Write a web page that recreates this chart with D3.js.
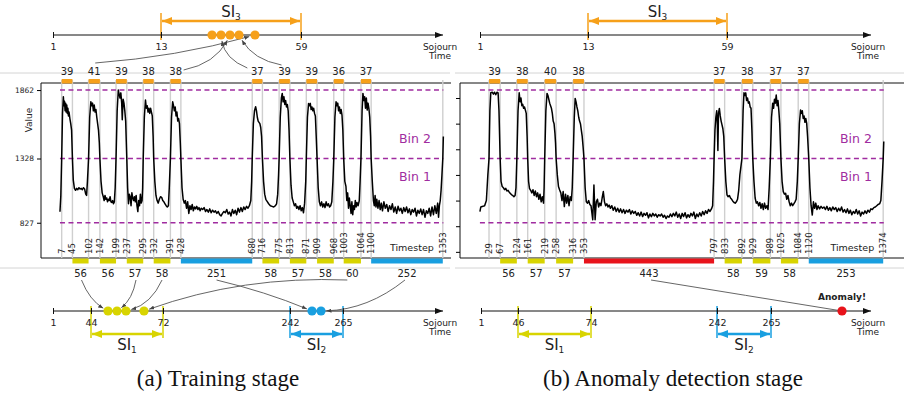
<!DOCTYPE html>
<html>
<head>
<meta charset="utf-8">
<script src="https://cdn.jsdelivr.net/npm/d3@7"></script>
<style>
  body { margin: 0; background: #fff; }
  text { font-family: "DejaVu Sans", sans-serif; fill: #222; }
  .cap { font-family: "Liberation Serif", serif; fill: #111; }
</style>
</head>
<body>
<svg id="fig" width="904" height="394"></svg>
<script>
// ---- data ----
// timesteps where the signal crosses the Bin 1 / Bin 2 border (up, down, up, down ...)
const trainCross = [7,45,102,142,199,237,295,332,391,428,680,716,775,813,871,909,968,1003,1064,1100,1353];
const testCross  = [29,67,124,161,219,258,316,353,797,833,892,929,989,1025,1084,1120,1374];
// sojourn times spent in Bin 2 (top bars) and Bin 1 (bottom bars)
const trainBin2 = [39,41,39,38,38,37,39,39,36,37];
const trainBin1 = [56,56,57,58,251,58,57,58,60,252];
const testBin2  = [39,38,40,38,37,38,37,37];
const testBin1  = [56,57,57,443,58,59,58,253];
const binEdges  = [827,1328,1862];
const rightTicks = [600,800,1000,1200,1400,1600,1800];
// sojourn intervals
const si3 = [13,59];
const si1Train = [44,72], si2Train = [242,265];
const si1Test  = [46,74], si2Test  = [242,265];
const topAxisTicks   = [1,13,59];
const trainLowTicks  = [1,44,72,242,265];
const testLowTicks   = [1,46,74,242,265];

const trainSignal = [
 [1,913],[4,1040],[7,1328],[10,1680],[13,1810],[15,1740],[17,1775],[19,1700],[21,1760],[23,1690],[25,1745],[27,1680],[29,1720],[31,1660],[33,1690],[36,1640],[39,1600],[42,1550],[45,1328],[48,1160],[52,1095],[56,1080],[60,1095],[64,1085],[68,1100],[72,1090],[76,1095],[80,1085],[84,1100],[88,1090],[92,1050],[95,1040],[98,1150],
 [102,1328],[106,1650],[110,1771],[113,1740],[116,1760],[119,1700],[122,1745],[125,1690],[128,1710],[131,1650],[134,1600],[137,1550],[140,1450],[142,1328],[146,1150],[150,1060],[154,1030],[157,1000],[160,1040],[163,1010],[166,1020],[169,990],[172,1010],[175,1000],[178,1030],[181,990],[184,985],[187,1000],[190,975],[193,990],[196,1100],
 [199,1328],[203,1700],[207,1862],[210,1830],[213,1800],[216,1840],[219,1760],[221,1630],[224,1790],[227,1760],[230,1700],[233,1620],[237,1328],[240,1100],[243,975],[246,1050],[249,1030],[252,960],[255,1060],[258,1020],[261,1000],[264,1030],[267,990],[270,1040],[273,960],[276,914],[279,1000],[282,960],[285,1050],[288,980],[291,1000],[293,1100],
 [295,1328],[299,1650],[303,1784],[306,1720],[309,1740],[312,1690],[315,1720],[318,1680],[321,1720],[324,1690],[327,1660],[330,1500],[332,1328],[336,1150],[340,1040],[344,1000],[348,980],[352,1010],[356,1030],[360,1025],[364,1000],[368,990],[372,975],[376,960],[380,950],[384,960],[387,1100],
 [391,1328],[395,1650],[399,1771],[402,1740],[405,1700],[408,1730],[411,1660],[414,1690],[417,1620],[420,1640],[423,1600],[426,1450],[428,1328],[432,1100],[436,1010],[440,980],[444,1000],[448,940],[452,990],[456,900],[460,960],[464,930],[468,970],[472,920],[476,950],[480,935],[484,955],[488,930],[492,945],[496,920],[500,940],[505,930],[510,945],[515,915],[520,930],[525,910],[530,935],[535,905],[540,925],[545,910],[550,920],[555,900],[560,915],[565,890],[570,880],[575,900],[580,915],[585,905],[590,930],[595,895],[600,910],[605,880],[610,930],[615,900],[620,925],[625,890],[630,940],[635,910],[640,945],[645,915],[650,950],[655,930],[660,955],[665,940],[670,960],[675,1000],[678,1150],
 [680,1328],[684,1600],[688,1700],[692,1732],[695,1700],[698,1650],[701,1620],[704,1610],[707,1600],[710,1570],[713,1500],[716,1328],[720,1150],[724,1050],[728,1010],[732,995],[738,975],[744,960],[750,955],[756,950],[762,960],[766,975],[770,1050],[773,1200],
 [775,1328],[779,1650],[783,1800],[786,1836],[789,1770],[792,1810],[795,1750],[798,1780],[801,1730],[804,1750],[807,1700],[810,1550],[813,1328],[817,1120],[821,1020],[825,990],[829,960],[833,975],[837,940],[841,955],[845,930],[849,960],[853,920],[857,945],[861,905],[865,980],[869,1150],
 [871,1328],[875,1650],[879,1758],[882,1740],[885,1758],[888,1710],[891,1730],[894,1700],[897,1720],[900,1680],[903,1660],[906,1500],[909,1328],[913,1100],[917,990],[921,960],[925,990],[929,950],[933,975],[937,945],[941,990],[945,960],[949,975],[953,950],[957,960],[961,990],[965,1150],
 [968,1328],[972,1650],[976,1771],[979,1740],[982,1760],[985,1700],[988,1730],[991,1680],[994,1710],[997,1667],[1000,1550],[1003,1328],[1007,1150],[1011,1110],[1014,1000],[1017,1060],[1020,940],[1023,1020],[1026,960],[1029,900],[1032,990],[1035,890],[1038,960],[1041,930],[1044,1000],[1047,950],[1050,985],[1054,960],[1058,1000],[1061,1150],
 [1064,1328],[1068,1700],[1071,1836],[1074,1780],[1077,1810],[1080,1720],[1083,1800],[1086,1706],[1089,1760],[1092,1720],[1095,1650],[1098,1500],[1100,1328],[1104,1150],[1108,1000],[1111,960],[1114,1040],[1117,950],[1120,1010],[1124,940],[1128,1000],[1132,930],[1136,980],[1140,920],[1145,990],[1150,940],[1155,970],[1160,915],[1165,960],[1170,930],[1175,975],[1180,910],[1185,950],[1190,900],[1195,955],[1200,920],[1205,940],[1210,900],[1215,945],[1220,915],[1225,950],[1230,905],[1235,935],[1240,890],[1245,930],[1250,910],[1255,940],[1260,880],[1265,925],[1270,900],[1275,935],[1280,890],[1285,930],[1290,870],[1295,920],[1300,900],[1305,940],[1310,880],[1315,950],[1320,890],[1325,960],[1330,900],[1335,980],[1338,870],[1341,960],[1344,1000],[1347,1080],[1350,1200],[1353,1328],[1355,1500]
];

const testSignal = [
 [-2,913],[1,950],[8,955],[14,960],[20,1000],[25,1200],[29,1328],[32,1700],[35,1841],[40,1845],[44,1830],[48,1845],[52,1825],[56,1845],[60,1840],[63,1700],[67,1328],[70,1150],[74,1109],[78,1100],[82,1085],[86,1095],[90,1075],[94,1080],[98,1065],[102,1055],[106,1045],[110,1040],[114,1030],[118,1040],[121,1100],
 [124,1328],[128,1700],[132,1841],[135,1771],[138,1800],[141,1740],[144,1750],[147,1720],[150,1730],[153,1706],[156,1680],[159,1500],[161,1328],[164,1150],[167,1096],[171,1080],[175,1060],[179,1085],[183,1040],[187,1075],[191,1030],[195,1060],[199,1010],[203,1050],[207,990],[211,1030],[215,980],[217,1100],
 [219,1328],[223,1700],[227,1836],[230,1820],[233,1790],[236,1760],[239,1740],[242,1720],[245,1680],[248,1620],[251,1600],[254,1524],[256,1450],[258,1328],[262,1200],[266,1110],[270,1083],[274,1060],[278,1000],[282,1070],[286,953],[290,1050],[294,980],[298,1040],[302,960],[306,1030],[310,1000],[313,1100],
 [316,1328],[320,1650],[323,1797],[326,1770],[329,1730],[332,1700],[335,1650],[338,1620],[341,1600],[344,1550],[347,1500],[350,1420],[353,1328],[357,1100],[361,990],[365,980],[369,1000],[373,970],[377,960],[383,850],[387,1122],[391,850],[395,990],[399,1010],[403,950],[407,980],[411,960],[415,1020],[419,1070],[423,990],[427,960],[431,975],[435,950],[439,965],[443,940],[448,960],[453,925],[458,950],[463,915],[468,940],[473,910],[478,935],[483,905],[488,930],[493,900],[498,925],[503,910],[508,930],[513,895],[518,920],[523,900],[528,915],[533,885],[538,905],[543,880],[548,910],[553,875],[558,900],[563,885],[568,905],[573,865],[578,895],[583,875],[588,900],[593,880],[598,895],[603,870],[608,890],[613,880],[618,895],[623,870],[628,885],[633,860],[638,880],[643,870],[648,895],[653,875],[658,900],[663,880],[668,910],[673,870],[678,895],[683,860],[688,900],[693,875],[698,905],[703,865],[708,890],[713,870],[718,900],[723,880],[728,910],[733,860],[738,895],[743,875],[748,905],[753,880],[758,915],[763,890],[768,920],[773,900],[778,930],[783,915],[788,935],[792,960],[795,1150],
 [797,1328],[800,1550],[803,1650],[806,1700],[808,1600],[810,1390],[812,1680],[815,1719],[818,1660],[821,1620],[824,1590],[827,1560],[830,1500],[833,1328],[837,1150],[841,1044],[845,1030],[849,1040],[853,1020],[857,1010],[861,995],[865,985],[869,980],[873,990],[877,1010],[881,1080],[885,1200],
 [892,1328],[896,1700],[899,1841],[902,1820],[905,1840],[908,1780],[911,1800],[914,1760],[917,1770],[920,1730],[923,1720],[926,1550],[929,1328],[933,1150],[937,1020],[941,980],[945,990],[949,960],[953,985],[957,940],[961,975],[965,930],[969,980],[973,940],[977,960],[981,930],[985,1100],
 [989,1328],[993,1650],[997,1760],[1000,1720],[1003,1790],[1006,1760],[1009,1823],[1012,1740],[1015,1780],[1018,1700],[1021,1600],[1025,1328],[1029,1150],[1033,1070],[1037,1050],[1041,1057],[1045,1010],[1049,1040],[1053,990],[1057,960],[1061,980],[1065,960],[1069,975],[1073,990],[1077,1010],[1081,1150],
 [1084,1328],[1088,1600],[1092,1706],[1095,1680],[1098,1700],[1101,1640],[1104,1660],[1107,1610],[1110,1640],[1113,1602],[1116,1500],[1120,1328],[1124,1100],[1128,960],[1132,887],[1136,990],[1140,940],[1144,980],[1148,930],[1152,960],[1157,935],[1162,955],[1167,940],[1172,950],[1177,930],[1182,955],[1187,925],[1192,945],[1197,920],[1202,950],[1207,930],[1212,945],[1217,915],[1222,940],[1227,920],[1232,950],[1237,910],[1242,930],[1247,905],[1252,935],[1257,900],[1262,925],[1267,890],[1272,915],[1277,900],[1282,930],[1287,895],[1292,920],[1297,880],[1302,910],[1307,895],[1312,920],[1317,900],[1322,925],[1327,910],[1332,935],[1337,930],[1342,945],[1347,950],[1352,960],[1357,970],[1362,975],[1366,1000],[1370,1150],[1374,1328],[1376,1460]
];

// ---- styles ----
const ORANGE = "#f6a01a", YELLOW = "#d8d400", BLUE = "#199fe0", RED = "#e8131b";
const PURPLE = "#a02ca0", GRID = "#cfcfcf";

const svg = d3.select("#fig");
const defs = svg.append("defs");

function marker(id, color, len, wid) {
  defs.append("marker").attr("id", id)
    .attr("viewBox", `0 0 ${len} ${wid}`)
    .attr("refX", len).attr("refY", wid / 2)
    .attr("markerWidth", len).attr("markerHeight", wid)
    .attr("markerUnits", "userSpaceOnUse")
    .attr("orient", "auto-start-reverse")
    .append("path").attr("d", `M0,0L${len},${wid / 2}L0,${wid}Z`).attr("fill", color);
}
marker("axArrow", "#111", 8, 6);
marker("lnArrow", "#444", 5, 4);
marker("mk-orange", ORANGE, 10, 8);
marker("mk-yellow", YELLOW, 10, 8);
marker("mk-blue", BLUE, 10, 8);

const y = d3.scaleLinear().domain([552, 1917]).range([258, 83]);

// separator lines
[[0, 450], [455, 904]].forEach(r => {
  [73, 268].forEach(yy => {
    svg.append("line").attr("x1", r[0]).attr("x2", r[1]).attr("y1", yy).attr("y2", yy)
      .attr("stroke", "#d4d4d4").attr("stroke-width", 1);
  });
});

function siColor(v, s1, s2) {
  if (v >= s1[0] && v <= s1[1]) return YELLOW;
  if (v >= s2[0] && v <= s2[1]) return BLUE;
  return RED;
}

function drawPanel(p) {
  const g = svg.append("g");
  const x = d3.scaleLinear().domain(p.tDom).range([p.left, p.right]);

  // frame (left, top, bottom)
  g.append("path")
    .attr("d", `M${p.right},83H${p.left}V258H${p.right}`)
    .attr("fill", "none").attr("stroke", "#111").attr("stroke-width", 1);

  // y axis
  const ya = d3.axisLeft(y).tickSize(4).tickPadding(3);
  if (p.labels) ya.tickValues(binEdges).tickFormat(d3.format("d"));
  else ya.tickValues(rightTicks).tickFormat("");
  const yg = g.append("g").attr("transform", `translate(${p.left},0)`).call(ya);
  yg.select(".domain").remove();
  yg.selectAll(".tick text").attr("font-size", 7.5).attr("font-family", "DejaVu Sans").attr("fill", "#222");
  if (p.labels) {
    g.append("text").attr("transform", `translate(32,120) rotate(-90)`)
      .attr("text-anchor", "middle").attr("font-size", 9).text("Value");
  }

  // gray crossing lines
  g.selectAll(".cl").data(p.cross).enter().append("line")
    .attr("x1", d => x(d)).attr("x2", d => x(d))
    .attr("y1", 80).attr("y2", 258)
    .attr("stroke", GRID).attr("stroke-width", 1.4);

  // bin borders
  const sx0 = x(p.sig[0][0]), sx1 = x(p.sig[p.sig.length - 1][0]);
  g.selectAll(".bl").data(binEdges).enter().append("line")
    .attr("x1", sx0).attr("x2", sx1)
    .attr("y1", d => y(d)).attr("y2", d => y(d))
    .attr("stroke", PURPLE).attr("stroke-width", 1.4).attr("stroke-dasharray", "5,3.5");

  const bx = p.right - p.binOff;
  g.append("text").attr("x", bx).attr("y", 143).attr("text-anchor", "middle")
    .attr("font-size", 12.5).style("fill", PURPLE).text("Bin 2");
  g.append("text").attr("x", bx).attr("y", 181).attr("text-anchor", "middle")
    .attr("font-size", 12.5).style("fill", PURPLE).text("Bin 1");

  // signal
  g.append("path").datum(p.sig)
    .attr("d", d3.line().x(d => x(d[0])).y(d => y(d[1])))
    .attr("fill", "none").attr("stroke", "#000").attr("stroke-width", 1.5)
    .attr("stroke-linejoin", "round");

  // timestep labels
  g.selectAll(".tl").data(p.cross).enter().append("text")
    .attr("transform", d => `translate(${x(d)},254) rotate(-90)`)
    .attr("dy", "0.35em").attr("font-size", 8.5).text(d => d);
  g.append("text").attr("x", x(p.cross[p.cross.length - 1]) - 9).attr("y", 251)
    .attr("text-anchor", "end").attr("font-size", 9.5).text("Timestep");

  // Bin 2 sojourn bars (top) and Bin 1 sojourn bars (bottom)
  const top = p.bin2.map((v, i) => ({ v, a: p.cross[2 * i], b: p.cross[2 * i + 1] }));
  const low = p.bin1.map((v, i) => ({ v, a: p.cross[2 * i + 1], b: p.cross[2 * i + 2] }));
  g.selectAll(".tb").data(top).enter().append("rect")
    .attr("x", d => x(d.a)).attr("width", d => x(d.b) - x(d.a))
    .attr("y", 79).attr("height", 4.5).attr("fill", ORANGE);
  g.selectAll(".tt").data(top).enter().append("text")
    .attr("x", d => (x(d.a) + x(d.b)) / 2).attr("y", 74.5)
    .attr("text-anchor", "middle").attr("font-size", 10).text(d => d.v);
  g.selectAll(".lb").data(low).enter().append("rect")
    .attr("x", d => x(d.a)).attr("width", d => x(d.b) - x(d.a))
    .attr("y", 258.5).attr("height", 5)
    .attr("fill", d => siColor(d.v, p.si1, p.si2));
  g.selectAll(".lt").data(low).enter().append("text")
    .attr("x", d => (x(d.a) + x(d.b)) / 2).attr("y", 277)
    .attr("text-anchor", "middle").attr("font-size", 10).text(d => d.v);

  p.topPos = top.map(d => (x(d.a) + x(d.b)) / 2);
  p.lowPos = low.map(d => (x(d.a) + x(d.b)) / 2);
  return g;
}

function sojournAxis(s, ticks, yy, xEnd, lblX) {
  const g = svg.append("g");
  g.append("line").attr("x1", s(ticks[0])).attr("x2", xEnd).attr("y1", yy).attr("y2", yy)
    .attr("stroke", "#111").attr("stroke-width", 1).attr("marker-end", "url(#axArrow)");
  const ag = g.append("g").attr("transform", `translate(0,${yy})`)
    .call(d3.axisBottom(s).tickValues(ticks).tickSize(3).tickPadding(5));
  ag.select(".domain").remove();
  ag.selectAll(".tick line").attr("y1", -3).attr("y2", 3).attr("stroke", "#111");
  ag.selectAll(".tick text").attr("font-size", 9.5).attr("font-family", "DejaVu Sans").attr("fill", "#222");
  const t = g.append("text").attr("y", yy + 14.5).attr("text-anchor", "middle").attr("font-size", 9);
  t.append("tspan").attr("x", lblX).text("Sojourn");
  t.append("tspan").attr("x", lblX).attr("dy", "1.0em").text("Time");
}

function siBracket(s, range, color, mk, yArrow, yTop, yBot, sub, lblY) {
  const g = svg.append("g");
  range.forEach(v => g.append("line").attr("x1", s(v)).attr("x2", s(v))
    .attr("y1", yTop).attr("y2", yBot).attr("stroke", color).attr("stroke-width", 1.5));
  g.append("line").attr("x1", s(range[0]) + 1).attr("x2", s(range[1]) - 1)
    .attr("y1", yArrow).attr("y2", yArrow)
    .attr("stroke", color).attr("stroke-width", 2.5)
    .attr("marker-start", `url(#${mk})`).attr("marker-end", `url(#${mk})`);
  const t = g.append("text").attr("x", (s(range[0]) + s(range[1])) / 2).attr("y", lblY)
    .attr("text-anchor", "middle").attr("font-size", 15).text("SI");
  t.append("tspan").attr("font-size", 9).attr("dy", 3).text(sub);
}

function dots(s, vals, yy, colorFn) {
  svg.append("g").selectAll("circle").data(vals).enter().append("circle")
    .attr("cx", d => s(d)).attr("cy", yy).attr("r", 4.6).attr("fill", colorFn);
}

function link(p0, dot, bend, r, arrow) {
  const dx = dot[0] - p0[0], dy = dot[1] - p0[1], len = Math.hypot(dx, dy);
  const cx = (p0[0] + dot[0]) / 2 - dy / len * bend, cy = (p0[1] + dot[1]) / 2 + dx / len * bend;
  const ex = dot[0] - cx, ey = dot[1] - cy, el = Math.hypot(ex, ey);
  const end = [dot[0] - ex / el * r, dot[1] - ey / el * r];
  const path = d3.path();
  path.moveTo(p0[0], p0[1]);
  path.quadraticCurveTo(cx, cy, end[0], end[1]);
  const l = svg.append("path").attr("d", path.toString())
    .attr("fill", "none").attr("stroke", "#555").attr("stroke-width", 0.9);
  if (arrow) l.attr("marker-end", "url(#lnArrow)");
}

// ---- panels ----
const pa = { left: 41, right: 451, tDom: [-66, 1382], cross: trainCross, sig: trainSignal,
  bin2: trainBin2, bin1: trainBin1, si1: si1Train, si2: si2Train, labels: true, binOff: 36 };
const pb = { left: 460, right: 904, tDom: [-70, 1445], cross: testCross, sig: testSignal,
  bin2: testBin2, bin1: testBin1, si1: si1Train, si2: si2Train, labels: false, binOff: 48 };
drawPanel(pa);
drawPanel(pb);

// sojourn time axes (schematic, piecewise)
const sTopA = d3.scaleLinear().domain([1, 13, 36, 39, 41, 59]).range([53, 161, 212, 239, 255, 301]);
const sTopB = d3.scaleLinear().domain([1, 13, 59]).range([480, 588, 727]);
const sLowA = d3.scaleLinear().domain([1, 44, 56, 58, 60, 72, 242, 251, 252, 265])
  .range([53, 91, 108, 126, 144, 163, 290, 312, 321, 343]);
const sLowB = d3.scaleLinear().domain([1, 46, 74, 242, 265, 443]).range([481, 518, 591, 717, 771, 842]);

siBracket(sTopA, si3, ORANGE, "mk-orange", 21, 13, 40, "3", 16.5);
siBracket(sTopB, si3, ORANGE, "mk-orange", 21, 13, 40, "3", 16.5);
siBracket(sLowA, si1Train, YELLOW, "mk-yellow", 334, 306, 338, "1", 350);
siBracket(sLowA, si2Train, BLUE, "mk-blue", 334, 306, 338, "2", 350);
siBracket(sLowB, si1Test, YELLOW, "mk-yellow", 334, 306, 338, "1", 350);
siBracket(sLowB, si2Test, BLUE, "mk-blue", 334, 306, 338, "2", 350);

sojournAxis(sTopA, topAxisTicks, 35, 443, 440);
sojournAxis(sTopB, topAxisTicks, 35, 871, 868);
sojournAxis(sLowA, trainLowTicks, 311, 443, 440);
sojournAxis(sLowB, testLowTicks, 311, 871, 868);

// links from sojourn labels to the dots
const topLinksA = [{ i: 1, dx: 1, dy: -8, bend: 8 }, { i: 4, dx: 8, dy: -1, bend: 14 },
  { i: 5, dx: -10, dy: -3, bend: -12 }, { i: 6, dx: -3, dy: -6, bend: -12 }];
topLinksA.forEach(l => link([pa.topPos[l.i] + l.dx, 71 + l.dy], [sTopA(trainBin2[l.i]), 35], l.bend, 6, true));
const lowLinksA = [{ i: 0, dx: 1, bend: 7 }, { i: 2, dx: 1, bend: -7 }, { i: 3, dx: 0, bend: -11 },
  { i: 8, dx: -5, bend: 20 }, { i: 4, dx: 0, bend: -4 }, { i: 9, dx: -2, bend: -15 }];
lowLinksA.forEach(l => link([pa.lowPos[l.i] + l.dx, 280], [sLowA(trainBin1[l.i]), 311], l.bend, 5.5, true));
link([pb.lowPos[3] + 2, 280], [sLowB(testBin1[3]), 311], 0, 4, false);

dots(sTopA, Array.from(new Set(trainBin2)), 35, () => ORANGE);
dots(sLowA, Array.from(new Set(trainBin1)), 311, d => siColor(d, si1Train, si2Train));
dots(sLowB, [testBin1[3]], 311, d => siColor(d, si1Train, si2Train));

svg.append("text").attr("x", sLowB(testBin1[3])).attr("y", 300).attr("text-anchor", "middle")
  .attr("font-size", 9).attr("font-weight", "bold").text("Anomaly!");

// captions
svg.append("text").attr("class", "cap").attr("x", 218).attr("y", 386)
  .attr("text-anchor", "middle").attr("font-size", 23).text("(a) Training stage");
svg.append("text").attr("class", "cap").attr("x", 673).attr("y", 386)
  .attr("text-anchor", "middle").attr("font-size", 23).text("(b) Anomaly detection stage");
</script>
</body>
</html>
